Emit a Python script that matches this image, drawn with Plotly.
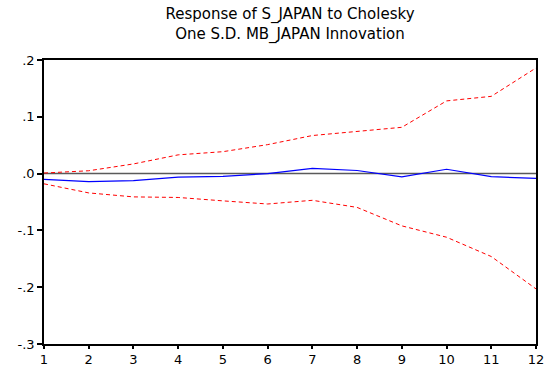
import plotly.graph_objects as go

periods = list(range(1, 13))
response = [-0.010, -0.014, -0.0125, -0.0062, -0.0048, 0.000, 0.0093, 0.0055, -0.0058, 0.0076, -0.0054, -0.0085]
upper_band = [0.001, 0.005, 0.017, 0.033, 0.0386, 0.051, 0.067, 0.074, 0.0815, 0.128, 0.136, 0.186]
lower_band = [-0.018, -0.034, -0.041, -0.042, -0.048, -0.0535, -0.047, -0.0595, -0.092, -0.112, -0.146, -0.203]

y_ticks = [0.2, 0.1, 0.0, -0.1, -0.2, -0.3]
y_tick_labels = [".2", ".1", ".0", "-.1", "-.2", "-.3"]
title_lines = ["Response of S_JAPAN to Cholesky", "One S.D. MB_JAPAN Innovation"]

fig = go.Figure()
fig.add_trace(go.Scatter(x=periods, y=upper_band, mode="lines",
                         line=dict(color="#FF0000", width=1, dash="4px,3px"), showlegend=False))
fig.add_trace(go.Scatter(x=periods, y=lower_band, mode="lines",
                         line=dict(color="#FF0000", width=1, dash="4px,3px"), showlegend=False))
fig.add_trace(go.Scatter(x=periods, y=response, mode="lines",
                         line=dict(color="#0000FF", width=1.2), showlegend=False))

fig.add_hline(y=0, line=dict(color="#5a5a5a", width=1.5), layer="below")

font = "DejaVu Sans, Liberation Sans, Arial, sans-serif"

W, H = 544, 369

fig.update_layout(
    template="none",
    width=W, height=H,
    margin=dict(l=44, r=8, t=60, b=25, autoexpand=False),
    paper_bgcolor="white", plot_bgcolor="white",
    font=dict(family=font, color="black", size=13),
    title=dict(text="<br>".join(title_lines), xref="paper", x=0.5, xanchor="center",
               yref="container", y=1 - 19 / H, yanchor="middle",
               font=dict(family=font, size=15, color="black")),
    xaxis=dict(range=[1, 12], tickvals=periods, ticktext=[str(p) for p in periods],
               showgrid=False, zeroline=False, showline=True, linecolor="black",
               linewidth=1.5, mirror=True, ticks="outside", ticklen=3, tickwidth=1.5,
               tickcolor="black", tickfont=dict(family=font, size=13), automargin=False,
               ticklabeloverflow="allow"),
    yaxis=dict(range=[-0.3, 0.2], tickvals=y_ticks, ticktext=y_tick_labels,
               showgrid=False, zeroline=False, showline=True, linecolor="black",
               linewidth=1.5, mirror=True, ticks="outside", ticklen=5, tickwidth=1.5,
               tickcolor="black", tickfont=dict(family=font, size=13), automargin=False,
               ticklabeloverflow="allow"),
)

fig.write_html(
    "out.html",
    config={"displayModeBar": False},
    post_script="document.body.style.margin='0';document.body.style.overflow='hidden';",
)
